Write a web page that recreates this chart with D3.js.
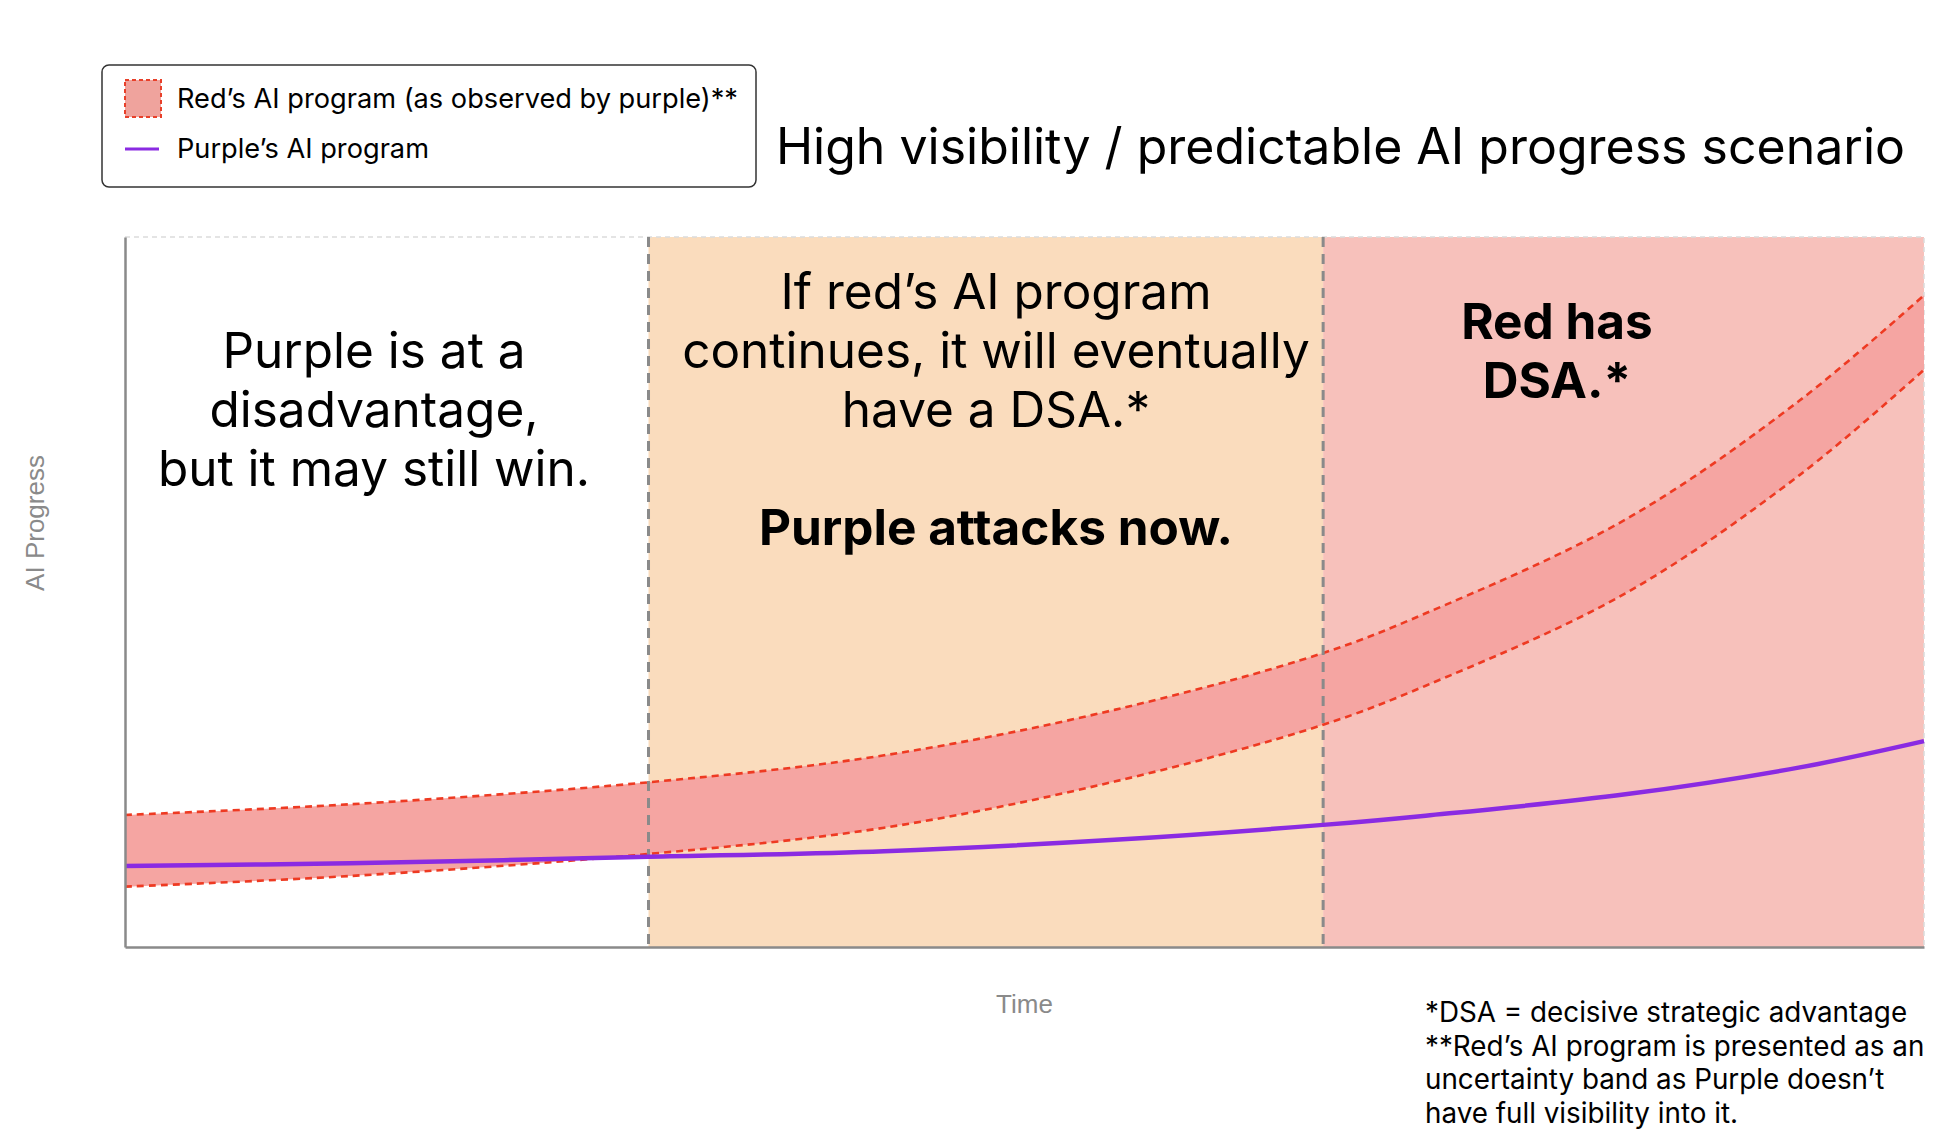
<!DOCTYPE html>
<html>
<head>
<meta charset="utf-8">
<script src="https://cdn.jsdelivr.net/npm/d3@7"></script>
<style>
  html, body { margin: 0; padding: 0; background: #fff; }
  svg { display: block; }
  text { font-family: Inter, "Noto Sans", sans-serif; fill: #000; }
</style>
</head>
<body>
<svg id="chart" width="1953" height="1138"></svg>
<script>
// ---- data ----
const timeSteps = [0, 12.5, 29.1, 42.2, 55.0, 66.6, 72.3, 83.4, 93.1, 100];
const redUpper  = [18.6, 20.1, 23.2, 27.0, 33.4, 41.4, 47.0, 60.2, 77.0, 91.8];
const redLower  = [8.5, 10.0, 13.1, 16.8, 23.3, 31.3, 36.8, 49.8, 66.5, 81.3];
const purpleAI  = [11.4, 11.8, 12.7, 13.5, 15.1, 17.2, 18.5, 21.5, 25.3, 29.0];
const zoneBreaks = [0, 29.1, 66.6, 100];
const zoneNames = ["before", "window", "dsa"];
const zoneTexts = [
  [{t: "Purple is at a", b: false}, {t: "disadvantage,", b: false}, {t: "but it may still win.", b: false}],
  [{t: "If red\u2019s AI program", b: false}, {t: "continues, it will eventually", b: false}, {t: "have a DSA.*", b: false}, {t: "", b: false}, {t: "Purple attacks now.", b: true}],
  [{t: "Red has", b: true}, {t: "DSA.*", b: true}]
];
const legendLabels = ["Red\u2019s AI program (as observed by purple)**", "Purple\u2019s AI program"];
const titleText = "High visibility / predictable AI progress scenario";
const xLabel = "Time";
const yLabel = "AI Progress";
const footnotes = ["*DSA = decisive strategic advantage", "**Red\u2019s AI program is presented as an", "uncertainty band as Purple doesn\u2019t", "have full visibility into it."];

// ---- layout ----
const svg = d3.select("#chart");
const m = {left: 125, right: 1924, top: 237, bottom: 947};
const x = d3.scaleLinear().domain([0, 100]).range([m.left, m.right]);
const y = d3.scaleLinear().domain([0, 100]).range([m.bottom, m.top]);

const zoneFill = ["#ffffff", "#FADCBD", "#F7C1BB"];
const zones = zoneNames.map((n, i) => ({name: n, x0: zoneBreaks[i], x1: zoneBreaks[i + 1]}));

svg.append("g").selectAll("rect").data(zones).join("rect")
  .attr("x", d => x(d.x0)).attr("y", m.top)
  .attr("width", d => x(d.x1) - x(d.x0)).attr("height", m.bottom - m.top)
  .attr("fill", (d, i) => zoneFill[i]);

// light dashed frame top/right
svg.append("path")
  .attr("d", `M${m.left},${m.top}H${m.right}V${m.bottom}`)
  .attr("fill", "none").attr("stroke", "#dcdcdc").attr("stroke-width", 1.5)
  .attr("stroke-dasharray", "5,4");

const rows = timeSteps.map((t, i) => ({t, hi: redUpper[i], lo: redLower[i], p: purpleAI[i]}));
const curve = d3.curveCatmullRom.alpha(0.5);

// band
svg.append("path").datum(rows)
  .attr("d", d3.area().curve(curve).x(d => x(d.t)).y0(d => y(d.lo)).y1(d => y(d.hi)))
  .attr("fill", "#F5A5A2");

// dashed band edges
["hi", "lo"].forEach(k => {
  svg.append("path").datum(rows)
    .attr("d", d3.line().curve(curve).x(d => x(d.t)).y(d => y(d[k])))
    .attr("fill", "none").attr("stroke", "#EE3A22").attr("stroke-width", 2.6)
    .attr("stroke-dasharray", "7,5");
});

// dividers
svg.append("g").selectAll("line").data(zoneBreaks.slice(1, -1)).join("line")
  .attr("x1", d => x(d)).attr("x2", d => x(d))
  .attr("y1", m.top).attr("y2", m.bottom)
  .attr("stroke", "#8a8a8a").attr("stroke-width", 3).attr("stroke-dasharray", "10,7");

// purple line
svg.append("path").datum(rows)
  .attr("d", d3.line().curve(curve).x(d => x(d.t)).y(d => y(d.p)))
  .attr("fill", "none").attr("stroke", "#8A2BE2").attr("stroke-width", 4.5);

// axes (no ticks)
const xAxis = d3.axisBottom(x).tickValues([]).tickSizeOuter(0);
const yAxis = d3.axisLeft(y).tickValues([]).tickSizeOuter(0);
svg.append("g").attr("transform", `translate(0,${m.bottom})`).call(xAxis)
  .select(".domain").attr("stroke", "#8a8a8a").attr("stroke-width", 2.5);
svg.append("g").attr("transform", `translate(${m.left},0)`).call(yAxis)
  .select(".domain").attr("stroke", "#8a8a8a").attr("stroke-width", 2.5);

// axis labels
svg.append("text").text(xLabel)
  .attr("x", (m.left + m.right) / 2).attr("y", 1013).attr("text-anchor", "middle")
  .style("font-family", "'Liberation Sans', Arial, sans-serif").style("font-size", "26px").style("fill", "#8a8a8a");
svg.append("text").text(yLabel)
  .attr("transform", "translate(44,523) rotate(-90)").attr("text-anchor", "middle")
  .style("font-family", "'Liberation Sans', Arial, sans-serif").style("font-size", "26px").style("fill", "#8a8a8a");

// zone texts
const textCenters = [374, 996, 1557];
const firstBaselines = [368, 309, 339];
zoneTexts.forEach((lines, zi) => {
  const g = svg.append("text").attr("text-anchor", "middle").style("font-size", "49.5px");
  lines.forEach((ln, li) => {
    g.append("tspan").attr("x", textCenters[zi]).attr("y", firstBaselines[zi] + li * 59)
      .style("font-weight", ln.b ? 700 : 400).text(ln.t);
  });
});

// title
svg.append("text").text(titleText).attr("x", 1905).attr("y", 164)
  .attr("text-anchor", "end").style("font-size", "50px");

// legend
const lg = svg.append("g");
lg.append("rect").attr("x", 102).attr("y", 65).attr("width", 654).attr("height", 122)
  .attr("rx", 7).attr("fill", "#fff").attr("stroke", "#333").attr("stroke-width", 1.5);
lg.append("rect").attr("x", 125).attr("y", 80).attr("width", 36).attr("height", 37)
  .attr("fill", "#EFA39D").attr("stroke", "#E8402A").attr("stroke-width", 2).attr("stroke-dasharray", "4,3");
lg.append("line").attr("x1", 125).attr("x2", 159).attr("y1", 149).attr("y2", 149)
  .attr("stroke", "#8A2BE2").attr("stroke-width", 3);
lg.selectAll("text.lab").data(legendLabels).join("text").attr("class", "lab")
  .attr("x", 177).attr("y", (d, i) => 108 + i * 50).style("font-size", "27.2px").text(d => d);

// footnotes
svg.append("g").selectAll("text").data(footnotes).join("text")
  .attr("x", 1425).attr("y", (d, i) => 1022 + i * 33.5).style("font-size", "27.8px").text(d => d);
</script>
</body>
</html>
